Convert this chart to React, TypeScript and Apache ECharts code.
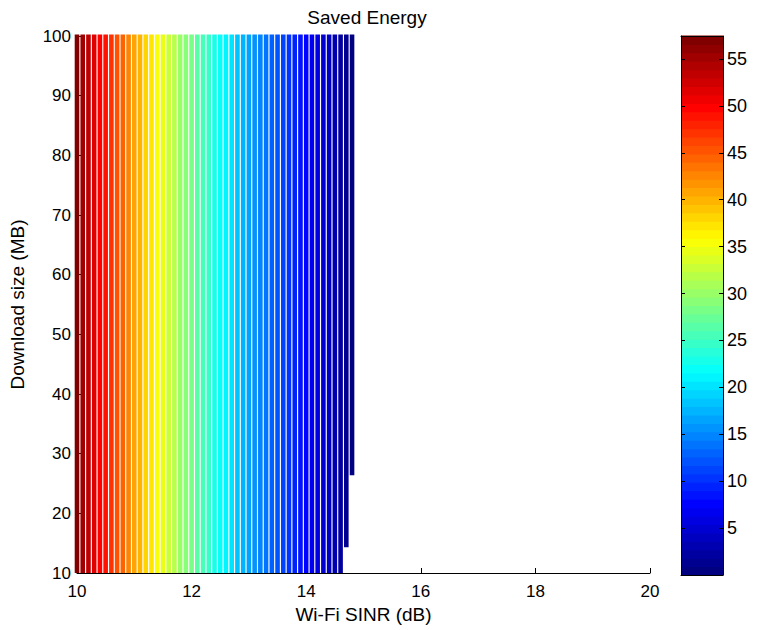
import React, { useEffect, useRef } from "react";
import * as echarts from "echarts";

// Contour lines: Wi-Fi SINR position (dB), saved-energy level, lowest download size (MB)
const SINR = [
  10.0, 10.1, 10.2, 10.3, 10.4, 10.5, 10.6, 10.7, 10.8, 10.9,
  11.0, 11.1, 11.2, 11.3, 11.4, 11.5, 11.6, 11.7, 11.8, 11.9,
  12.0, 12.1, 12.2, 12.3, 12.4, 12.5, 12.6, 12.7, 12.8, 12.9,
  13.0, 13.1, 13.2, 13.3, 13.4, 13.5, 13.6, 13.7, 13.8, 13.9,
  14.0, 14.1, 14.2, 14.3, 14.4, 14.5, 14.6, 14.7, 14.8,
];
const ENERGY = [
  57.2, 55.4, 53.7, 51.9, 50.2, 48.6, 47.0, 45.5, 44.0, 42.6,
  41.2, 39.8, 38.4, 37.0, 35.6, 34.3, 33.0, 31.7, 30.4, 29.2,
  28.0, 26.8, 25.6, 24.4, 23.2, 22.0, 20.9, 19.8, 18.7, 17.6,
  16.6, 15.6, 14.6, 13.6, 12.6, 11.7, 10.8, 9.9, 9.0, 8.1,
  7.3, 6.4, 5.6, 4.7, 3.9, 3.1, 2.3, 1.5, 0.7,
];
const SIZE_MIN = [
  10, 10, 10, 10, 10, 10, 10, 10, 10, 10,
  10, 10, 10, 10, 10, 10, 10, 10, 10, 10,
  10, 10, 10, 10, 10, 10, 10, 10, 10, 10,
  10, 10, 10, 10, 10, 10, 10, 10, 10, 10,
  10, 10, 10, 10, 10, 10, 10, 14.3, 26.4,
];
const SIZE_MAX = 100;

const CB_MIN = 0;
const CB_MAX = 57.45;
const CB_LEVELS = 64;

const FONT = "'Liberation Sans', Arial, Helvetica, sans-serif";

function jet(t: number): string {
  const c = (v: number) => Math.round(Math.max(0, Math.min(1, v)) * 255);
  const r = c(1.5 - Math.abs(4 * t - 3));
  const g = c(1.5 - Math.abs(4 * t - 2));
  const b = c(1.5 - Math.abs(4 * t - 1));
  return `rgb(${r},${g},${b})`;
}
function levelColor(v: number): string {
  let idx = Math.floor(((v - CB_MIN) / (CB_MAX - CB_MIN)) * CB_LEVELS);
  idx = Math.max(0, Math.min(CB_LEVELS - 1, idx));
  return jet(idx / (CB_LEVELS - 1));
}

export default function App() {
  const ref = useRef<HTMLDivElement>(null);
  useEffect(() => {
    document.body.style.margin = "0";
    if (!ref.current) return;
    const chart = echarts.init(ref.current, undefined, { renderer: "svg" });
    const lineData = SINR.map((x, i) => [x, SIZE_MIN[i], SIZE_MAX, ENERGY[i]]);
    const cbData = Array.from({ length: CB_LEVELS }, (_, i) => [i]);
    const tickText = { color: "#000", fontSize: 17, fontFamily: FONT };
    const nameText = { color: "#000", fontSize: 19, fontFamily: FONT };
    const option: any = {
      animation: false,
      backgroundColor: "#fff",
      title: {
        text: "Saved Energy",
        left: 362,
        textAlign: "center",
        top: 3,
        textStyle: { color: "#000", fontSize: 19, fontWeight: "normal", fontFamily: FONT },
      },
      grid: [
        { left: 76, top: 36, width: 574, height: 537 },
        { left: 681, top: 36, width: 42, height: 539 },
      ],
      xAxis: [
        {
          gridIndex: 0,
          type: "value",
          min: 10,
          max: 20,
          interval: 2,
          name: "Wi-Fi SINR (dB)",
          nameLocation: "middle",
          nameGap: 32,
          nameTextStyle: nameText,
          axisLine: { show: true, onZero: false, lineStyle: { color: "#000", width: 1 } },
          axisTick: { show: true, inside: true, length: 5, lineStyle: { color: "#000" } },
          axisLabel: { ...tickText, margin: 10 },
          splitLine: { show: false },
        },
        {
          gridIndex: 1,
          type: "value",
          min: 0,
          max: 1,
          position: "bottom",
          z: 5,
          axisLine: { show: true, onZero: false, lineStyle: { color: "#000", width: 1 } },
          axisTick: { show: false },
          axisLabel: { show: false },
          splitLine: { show: false },
        },
        {
          gridIndex: 1,
          type: "value",
          min: 0,
          max: 1,
          position: "top",
          z: 5,
          axisLine: { show: true, onZero: false, lineStyle: { color: "#000", width: 1 } },
          axisTick: { show: false },
          axisLabel: { show: false },
          splitLine: { show: false },
        },
      ],
      yAxis: [
        {
          gridIndex: 0,
          type: "value",
          min: 10,
          max: 100,
          interval: 10,
          name: "Download size (MB)",
          nameLocation: "middle",
          nameGap: 50,
          nameTextStyle: nameText,
          axisLine: { show: true, onZero: false, lineStyle: { color: "#000", width: 1 } },
          axisTick: { show: true, inside: true, length: 5, lineStyle: { color: "#000" } },
          axisLabel: { ...tickText, margin: 6 },
          splitLine: { show: false },
        },
        {
          gridIndex: 1,
          type: "value",
          min: CB_MIN,
          max: CB_MAX,
          interval: 5,
          position: "left",
          z: 5,
          axisLine: { show: true, onZero: false, lineStyle: { color: "#000", width: 1 } },
          axisTick: { show: true, inside: true, length: 4, lineStyle: { color: "#000" } },
          axisLabel: { show: false },
          splitLine: { show: false },
        },
        {
          gridIndex: 1,
          type: "value",
          min: CB_MIN,
          max: CB_MAX,
          interval: 5,
          position: "right",
          z: 5,
          axisLine: { show: true, onZero: false, lineStyle: { color: "#000", width: 1 } },
          axisTick: { show: true, inside: true, length: 4, lineStyle: { color: "#000" } },
          axisLabel: {
            ...tickText,
            fontSize: 18,
            margin: 4,
            showMaxLabel: false,
            formatter: (v: number) => (v === 0 ? "" : String(v)),
          },
          splitLine: { show: false },
        },
      ],
      series: [
        {
          type: "custom",
          xAxisIndex: 0,
          yAxisIndex: 0,
          data: lineData,
          clip: false,
          renderItem: (params: any, api: any) => {
            const x = api.value(0);
            const p1 = api.coord([x, api.value(1)]);
            const p2 = api.coord([x, api.value(2)]);
            return {
              type: "line",
              shape: { x1: p1[0], y1: p1[1], x2: p2[0], y2: p2[1] - 1.5 },
              style: { stroke: levelColor(api.value(3)), lineWidth: 4.6, lineCap: "butt" },
            };
          },
        },
        {
          type: "custom",
          xAxisIndex: 1,
          yAxisIndex: 1,
          data: cbData,
          renderItem: (params: any, api: any) => {
            const i = api.value(0);
            const step = (CB_MAX - CB_MIN) / CB_LEVELS;
            const lo = CB_MIN + i * step;
            const hi = lo + step;
            const a = api.coord([0, lo]);
            const b = api.coord([1, hi]);
            return {
              type: "rect",
              shape: { x: a[0], y: b[1] - 0.5, width: b[0] - a[0], height: a[1] - b[1] + 1 },
              style: { fill: jet(i / (CB_LEVELS - 1)) },
            };
          },
        },
      ],
    };
    chart.setOption(option);
    return () => chart.dispose();
  }, []);
  return <div ref={ref} style={{ width: 763, height: 630 }} />;
}
